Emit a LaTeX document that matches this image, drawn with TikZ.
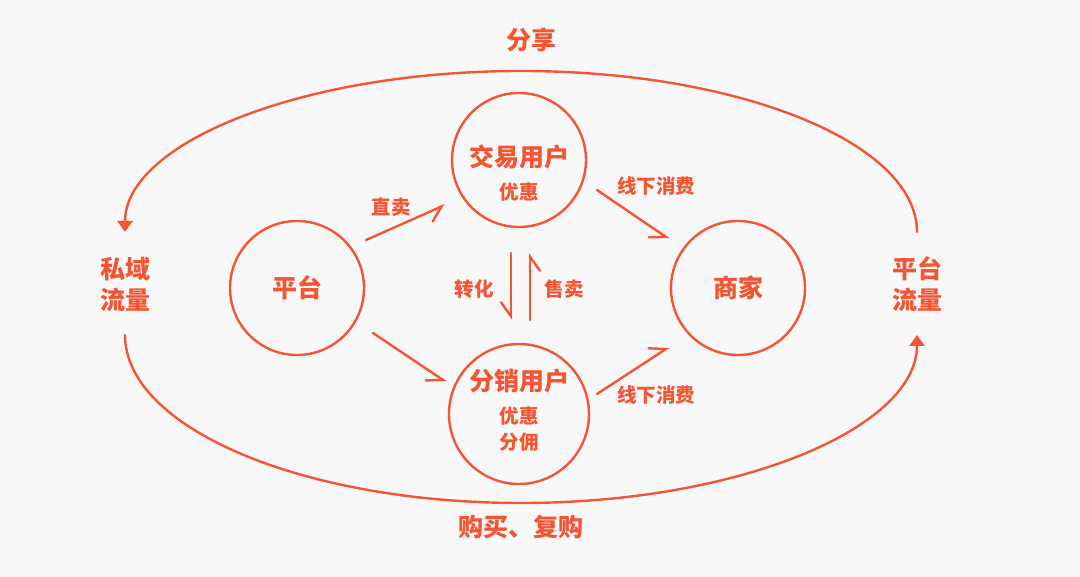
\documentclass[tikz,border=0pt]{standalone}
\usepackage{fontspec}
\newfontfamily\cjk{Noto Sans CJK SC}
\usetikzlibrary{arrows.meta}
\definecolor{acc}{RGB}{245,85,50}
\definecolor{bgc}{RGB}{248,248,248}
\tikzset{
  circ/.style={circle, draw=acc, line width=2.4pt, minimum size=134pt, inner sep=0pt},
  big/.style={text=acc, font=\cjk\bfseries\fontsize{25}{29}\selectfont, inner sep=0pt},
  small/.style={text=acc, font=\cjk\bfseries\fontsize{19.5}{23}\selectfont, inner sep=0pt},
  conn/.style={draw=acc, line width=2.4pt, line cap=round},
  harpr/.style={conn, -{Straight Barb[right, length=14pt, width=20pt, line cap=round]}},
  harpl/.style={conn, -{Straight Barb[left, length=14pt, width=20pt, line cap=round]}},
  loop/.style={conn, -{Triangle[length=11pt, width=15pt]}}
}
\begin{document}
\begin{tikzpicture}[x=1pt, y=-1pt]
\fill[bgc] (0,0) rectangle (1080,577);
\useasboundingbox (0,0) rectangle (1080,577);

% circles
\node[circ] (pt) at (297,288) {};
\node[circ] (sj) at (738,288) {};
\node[circ] (jy) at (519,160) {};
\node[circ, minimum size=140pt] (fx) at (519,414) {};

% circle texts
\node[big] (ptt) at (297,288) {平台};
\node[big] (sjt) at (738,288) {商家};
\node[big] (jyt) at (519,157) {交易用户};
\node[small] (jys) at (519,192) {优惠};
\node[big] (fxt) at (519,381) {分销用户};
\node[small] (fxs1) at (519,416) {优惠};
\node[small] (fxs2) at (519,442) {分佣};

% side labels
\node[big, align=center] (sy) at (125,284) {私域\\[2pt]流量};
\node[big, align=center] (pl) at (917,284) {平台\\[2pt]流量};
\node[big] (fenxiang) at (531,40) {分享};
\node[big] (goumai) at (521,527) {购买、复购};

% arrow labels
\node[small] (l1) at (391,207) {直卖};
\node[small] (l2) at (474,289) {转化};
\node[small] (l3) at (564,289) {售卖};
\node[small] (l4) at (656,186) {线下消费};
\node[small] (l5) at (656,395) {线下消费};

% arrow end points
\coordinate (a1s) at (366,240); \coordinate (a1e) at (445,205);
\coordinate (a2s) at (373,333); \coordinate (a2e) at (446,382);
\coordinate (a3s) at (511,253); \coordinate (a3e) at (511,320);
\coordinate (a4s) at (530,320); \coordinate (a4e) at (530,253);
\coordinate (a5s) at (597,190); \coordinate (a5e) at (669,239);
\coordinate (a6s) at (597,394); \coordinate (a6e) at (669,347);

\draw[harpr] (a1s) -- (a1e);
\draw[harpr] (a2s) -- (a2e);
\draw[harpr] (a3s) -- (a3e);
\draw[harpr] (a4s) -- (a4e);
\draw[harpr] (a5s) -- (a5e);
\draw[harpl] (a6s) -- (a6e);

% big loop
\coordinate (ts) at (917,232);
\coordinate (bs) at (125,335);
\draw[loop] (ts) arc[start angle=0, end angle=180, x radius=396pt, y radius=161pt];
\draw[loop] (bs) arc[start angle=180, end angle=360, x radius=396pt, y radius=168pt];
\end{tikzpicture}
\end{document}
